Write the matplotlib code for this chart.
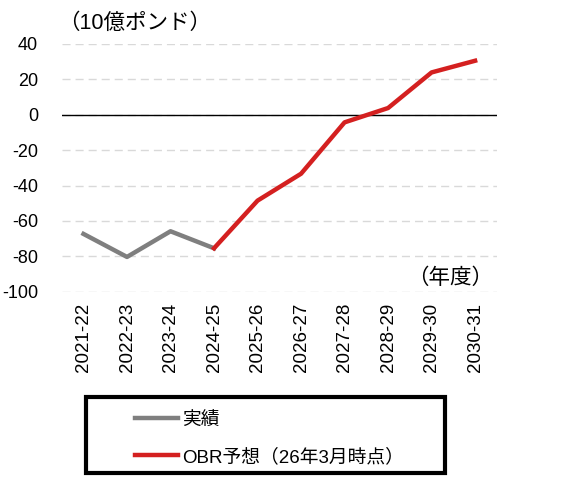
import matplotlib.pyplot as plt
from matplotlib.lines import Line2D
from matplotlib.patches import Rectangle

plt.rcParams['font.family'] = ['Liberation Sans', 'Noto Sans CJK JP', 'DejaVu Sans']
plt.rcParams['axes.unicode_minus'] = False

years = ["2021-22", "2022-23", "2023-24", "2024-25", "2025-26",
         "2026-27", "2027-28", "2028-29", "2029-30", "2030-31"]
actual = [-67.3, -80.3, -65.8, -75.4]
forecast = [-75.4, -48.5, -33.3, -4.3, 3.8, 23.9, 30.5]

gray = "#7f7f7f"
red = "#d42020"

fig = plt.figure(figsize=(5.88, 4.88), dpi=100)
ax = fig.add_axes([0.105, 0.402, 0.740, 0.508])

x_act = list(range(len(actual)))
x_fc = list(range(len(actual) - 1, len(years)))

ax.plot(x_act, actual, color=gray, linewidth=3.2, label="実績")
ax.plot(x_fc, forecast, color=red, linewidth=3.2, label="OBR予想（26年3月時点）")

ax.set_xlim(-0.5, len(years) - 0.5)
ax.set_ylim(-100, 40)
ax.set_yticks(range(-100, 41, 20))
ax.set_xticks(range(len(years)))
ax.set_xticklabels(years, rotation=90, fontsize=13.5)
ax.tick_params(axis="y", labelsize=13, length=0, pad=17)
ax.tick_params(axis="x", length=0, pad=8)

for s in ax.spines.values():
    s.set_visible(False)
ax.grid(axis="y", color="#d9d9d9", linestyle=(0, (5.8, 3.6)), linewidth=1)
ax.axhline(0, color="black", linewidth=1, zorder=1)
ax.set_axisbelow(True)

fig.text(0.099, 0.952, "（10億ポンド）", fontsize=15.5, ha="left", va="center")
fig.text(0.838, 0.430, "（年度）", fontsize=15.5, ha="right", va="center")

# legend drawn by hand inside a thick box
fig.patches.append(Rectangle((0.146, 0.031), 0.611, 0.155, transform=fig.transFigure,
                             fill=False, edgecolor="black", linewidth=3))
handles = [Line2D([0], [0], color=gray, linewidth=3.2),
           Line2D([0], [0], color=red, linewidth=3.2)]
leg = fig.legend(handles, ["実績", "OBR予想（26年3月時点）"],
                 loc="center left", bbox_to_anchor=(0.230, 0.101),
                 fontsize=13.5, frameon=False,
                 handlelength=2.3, handletextpad=0.2, labelspacing=1.05,
                 borderpad=0, borderaxespad=0)

fig.savefig("out.png", dpi=100)
